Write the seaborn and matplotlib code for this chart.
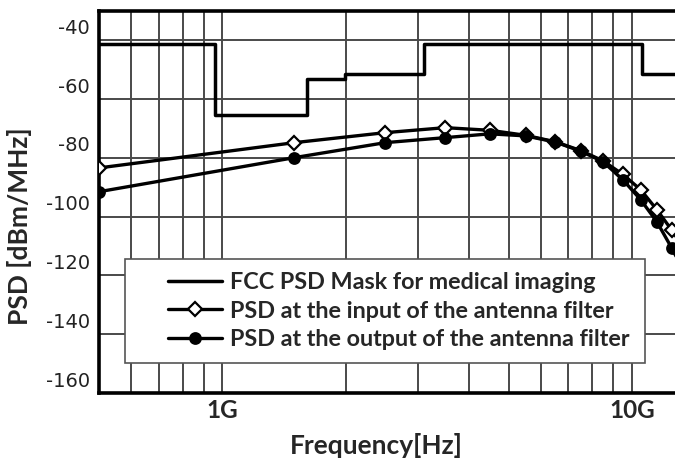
import numpy as np
import pandas as pd
import seaborn as sns
import matplotlib
matplotlib.use("Agg")
import matplotlib.pyplot as plt
from matplotlib.ticker import FixedLocator, NullFormatter, FixedFormatter
from matplotlib.patches import Rectangle
import matplotlib.transforms as mtransforms

# ---- data (GHz / dBm/MHz) ----
mask_freq = [0.5, 0.96, 1.61, 1.99, 3.1, 10.6, 14.0]
mask_psd = [-41.3, -65.3, -53.3, -51.3, -41.3, -51.3, -51.3]

psd_freq = [0.5, 1.5, 2.5, 3.5, 4.5, 5.5, 6.5, 7.5, 8.5, 9.5, 10.5, 11.5, 12.5, 13.5]
psd_input = [-83.4, -74.8, -71.4, -69.7, -70.6, -72.3, -74.5, -77.5, -81.0, -85.6, -90.8, -97.6, -104.5, -111.5]
psd_output = [-91.5, -79.9, -74.8, -73.1, -71.8, -72.5, -74.6, -77.7, -81.3, -87.4, -94.2, -101.7, -110.6, -119.5]

y_ticks = [-40, -60, -80, -100, -120, -140, -160]
x_major = [1.0, 10.0]
x_major_labels = ["1G", "10G"]
x_minor = [0.6, 0.7, 0.8, 0.9, 2, 3, 4, 5, 6, 7, 8, 9]

labels = ["FCC PSD Mask for medical imaging",
          "PSD at the input of the antenna filter",
          "PSD at the output of the antenna filter"]

sns.set_style("white")
plt.rcParams['font.family'] = ['DejaVu Sans']

fig = plt.figure(figsize=(6.75, 4.61), dpi=100)
ax = fig.add_axes([99/675, 1-393/461, 576/675, 382/461])

ax.set_xscale("log")

mask_df = pd.DataFrame({"f": mask_freq, "p": mask_psd})
in_df = pd.DataFrame({"f": psd_freq, "p": psd_input})
out_df = pd.DataFrame({"f": psd_freq, "p": psd_output})

sns.lineplot(data=mask_df, x="f", y="p", ax=ax, color="black", lw=2.5,
             drawstyle="steps-post", label=labels[0], zorder=3)
sns.lineplot(data=in_df, x="f", y="p", ax=ax, color="black", lw=2.4,
             marker="D", markersize=7, markerfacecolor="white",
             markeredgecolor="black", markeredgewidth=1.6, label=labels[1], zorder=3)
sns.lineplot(data=out_df, x="f", y="p", ax=ax, color="black", lw=2.4,
             marker="o", markersize=8, markerfacecolor="black",
             markeredgecolor="black", markeredgewidth=1.2, label=labels[2], zorder=4)

ax.set_xlim(0.5, 10 ** (452/409))
ax.set_ylim(-160, -30)

# ticks and grid
ax.xaxis.set_major_locator(FixedLocator(x_major))
ax.xaxis.set_major_formatter(FixedFormatter(x_major_labels))
ax.xaxis.set_minor_locator(FixedLocator(x_minor))
ax.xaxis.set_minor_formatter(NullFormatter())
ax.yaxis.set_major_locator(FixedLocator(y_ticks))
ax.set_yticklabels([str(v) for v in y_ticks])
ax.tick_params(axis="both", which="both", length=0)
ax.tick_params(axis="y", pad=6.5, labelsize=14, labelcolor="#222222")
ax.tick_params(axis="x", pad=4.5, labelsize=17.5)
for t in ax.get_xticklabels():
    t.set_fontfamily(["Lato", "DejaVu Sans"])
    t.set_fontweight("bold")
ax.grid(True, which="both", axis="x", color="#4a4a4a", lw=1.4)
ax.grid(True, which="major", axis="y", color="#4a4a4a", lw=1.4)
ax.set_axisbelow(True)

# shift y tick labels upward (as in reference)
off = mtransforms.ScaledTranslation(0, 0.14, fig.dpi_scale_trans)
for t in ax.get_yticklabels():
    t.set_transform(t.get_transform() + off)

for s in ["left", "bottom", "top"]:
    ax.spines[s].set_visible(True)
    ax.spines[s].set_color("black")
    ax.spines[s].set_linewidth(2.6)
ax.spines["right"].set_visible(False)

ax.set_xlabel("Frequency[Hz]", fontsize=19, fontweight="bold",
              fontfamily=["Lato", "DejaVu Sans"], va="baseline")
ax.xaxis.set_label_coords((376-99)/576, (393-454)/382)
ax.set_ylabel("PSD [dBm/MHz]", fontsize=19, fontweight="bold",
              fontfamily=["Lato", "DejaVu Sans"], va="center")
ax.yaxis.set_label_coords((20-99)/576, (393-226)/382)

# legend box
rect = Rectangle(((125-99)/576, (393-363)/382), (645-125)/576, (363-259)/382,
                 transform=ax.transAxes, facecolor="white", edgecolor="#555555",
                 lw=1.2, zorder=5)
ax.add_patch(rect)
leg = ax.legend(loc="center left", bbox_to_anchor=((168-99)/576, (393-311)/382),
                frameon=False, borderaxespad=0, borderpad=0,
                handlelength=2.3, handletextpad=0.34, labelspacing=0.33,
                prop={"family": ["Lato", "DejaVu Sans"], "weight": "bold", "size": 16.8})
leg.set_zorder(6)

fig.savefig("out.png", dpi=100)
